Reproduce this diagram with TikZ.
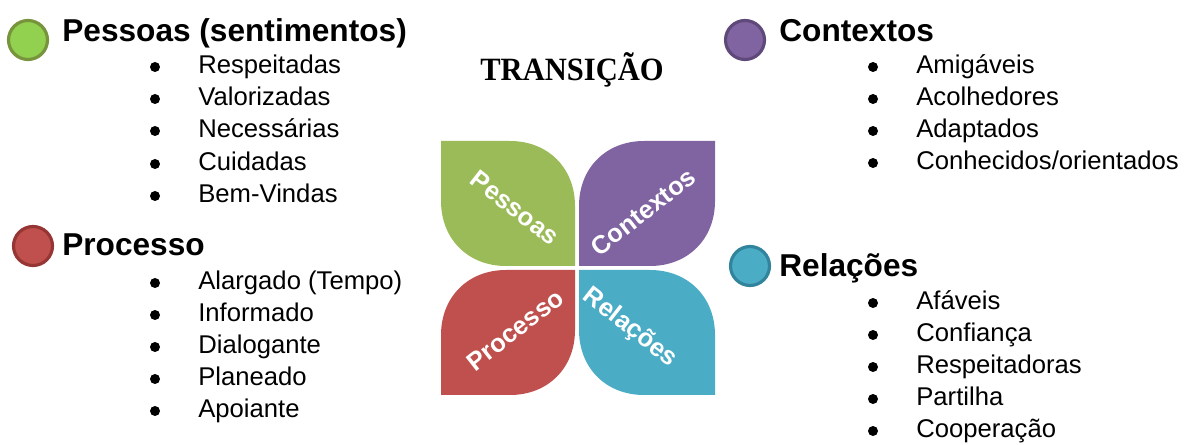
\documentclass[tikz,border=0pt]{standalone}
\usepackage{fontspec}
\setmainfont{Liberation Sans}
\newfontfamily\titlefont{Liberation Serif}
\definecolor{leafgreen}{HTML}{9BBB59}
\definecolor{leafpurple}{HTML}{8064A2}
\definecolor{leafred}{HTML}{C0504D}
\definecolor{leafteal}{HTML}{4BACC6}
\definecolor{dotgreen}{HTML}{92D050}
\definecolor{ringgreen}{HTML}{77933C}
\definecolor{ringpurple}{HTML}{5F497A}
\definecolor{ringred}{HTML}{963634}
\definecolor{ringteal}{HTML}{31849B}

\begin{document}
\begin{tikzpicture}[x=0.02cm,y=-0.02cm]

%
% Styles
%
\tikzstyle{topic} = [circle,minimum size=0.78cm,inner sep=0pt,line width=1.8pt]
\tikzstyle{head} = [anchor=base west,inner sep=0pt,font=\fontsize{18}{20}\selectfont\bfseries]
\tikzstyle{item} = [anchor=base west,inner sep=0pt,font=\fontsize{14.6}{16}\selectfont]
\tikzstyle{bul} = [circle,fill=black,minimum size=0.2cm,inner sep=0pt]
\tikzstyle{leaftext} = [text=white,inner sep=0pt,font=\fontsize{14.5}{16}\selectfont\bfseries]

\useasboundingbox (0,0) rectangle (1189,445);

% title
\node[anchor=base,inner sep=0pt,font=\titlefont\fontsize{18.5}{20}\selectfont\bfseries,xscale=0.94] (title) at (572,81) {TRANSIÇÃO};

% leaves
\fill[leafgreen] (441,141) -- (510,141) .. controls (548,141) and (575,168) .. (575,206) -- (575,266) -- (506,266) .. controls (468,266) and (441,239) .. (441,201) -- cycle;
\fill[leafpurple] (715,141) -- (715,201) .. controls (715,239) and (688,266) .. (650,266) -- (579,266) -- (579,206) .. controls (579,168) and (606,141) .. (644,141) -- cycle;
\fill[leafred] (575,270) -- (575,330) .. controls (575,368) and (548,395) .. (510,395) -- (441,395) -- (441,335) .. controls (441,297) and (468,270) .. (506,270) -- cycle;
\fill[leafteal] (579,270) -- (650,270) .. controls (688,270) and (715,297) .. (715,335) -- (715,395) -- (644,395) .. controls (606,395) and (579,368) .. (579,330) -- cycle;

\node[leaftext,rotate=-38] (lp) at (515,208) {Pessoas};
\node[leaftext,rotate=38] (lc) at (643,212) {Contextos};
\node[leaftext,rotate=38] (lpr) at (515,330) {Processo};
\node[leaftext,rotate=-38] (lr) at (630,328) {Relações};

% Pessoas
\node[topic,fill=dotgreen,draw=ringgreen] (p) at (28,40) {};
\node[head] (ph) at (62,42) {Pessoas (sentimentos)};
\node[bul] (pb1) at (155,67) {};  \node[item] (p1) at (198,74) {Respeitadas};
\node[bul] (pb2) at (155,99) {};  \node[item] (p2) at (198,106) {Valorizadas};
\node[bul] (pb3) at (155,131) {}; \node[item] (p3) at (198,138) {Necessárias};
\node[bul] (pb4) at (155,164) {}; \node[item] (p4) at (198,171) {Cuidadas};
\node[bul] (pb5) at (155,196) {}; \node[item] (p5) at (198,203) {Bem-Vindas};

% Processo
\node[topic,fill=leafred,draw=ringred] (pr) at (33,246) {};
\node[head] (prh) at (62,256) {Processo};
\node[bul] (prb1) at (155,283) {}; \node[item] (pr1) at (198,290) {Alargado (Tempo)};
\node[bul] (prb2) at (155,315) {}; \node[item] (pr2) at (198,322) {Informado};
\node[bul] (prb3) at (155,347) {}; \node[item] (pr3) at (198,354) {Dialogante};
\node[bul] (prb4) at (155,379) {}; \node[item] (pr4) at (198,386) {Planeado};
\node[bul] (prb5) at (155,411) {}; \node[item] (pr5) at (198,418) {Apoiante};

% Contextos
\node[topic,fill=leafpurple,draw=ringpurple] (c) at (745,40) {};
\node[head] (ch) at (779,42) {Contextos};
\node[bul] (cb1) at (873,67) {};  \node[item] (c1) at (916,74) {Amigáveis};
\node[bul] (cb2) at (873,99) {};  \node[item] (c2) at (916,106) {Acolhedores};
\node[bul] (cb3) at (873,131) {}; \node[item] (c3) at (916,138) {Adaptados};
\node[bul] (cb4) at (873,163) {}; \node[item] (c4) at (916,170) {Conhecidos/orientados};

% Relacoes
\node[topic,fill=leafteal,draw=ringteal] (r) at (750,266) {};
\node[head] (rh) at (779,277) {Relações};
\node[bul] (rb1) at (873,303) {}; \node[item] (r1) at (916,310) {Afáveis};
\node[bul] (rb2) at (873,335) {}; \node[item] (r2) at (916,342) {Confiança};
\node[bul] (rb3) at (873,367) {}; \node[item] (r3) at (916,374) {Respeitadoras};
\node[bul] (rb4) at (873,399) {}; \node[item] (r4) at (916,406) {Partilha};
\node[bul] (rb5) at (873,431) {}; \node[item] (r5) at (916,438) {Cooperação};

\end{tikzpicture}
\end{document}
